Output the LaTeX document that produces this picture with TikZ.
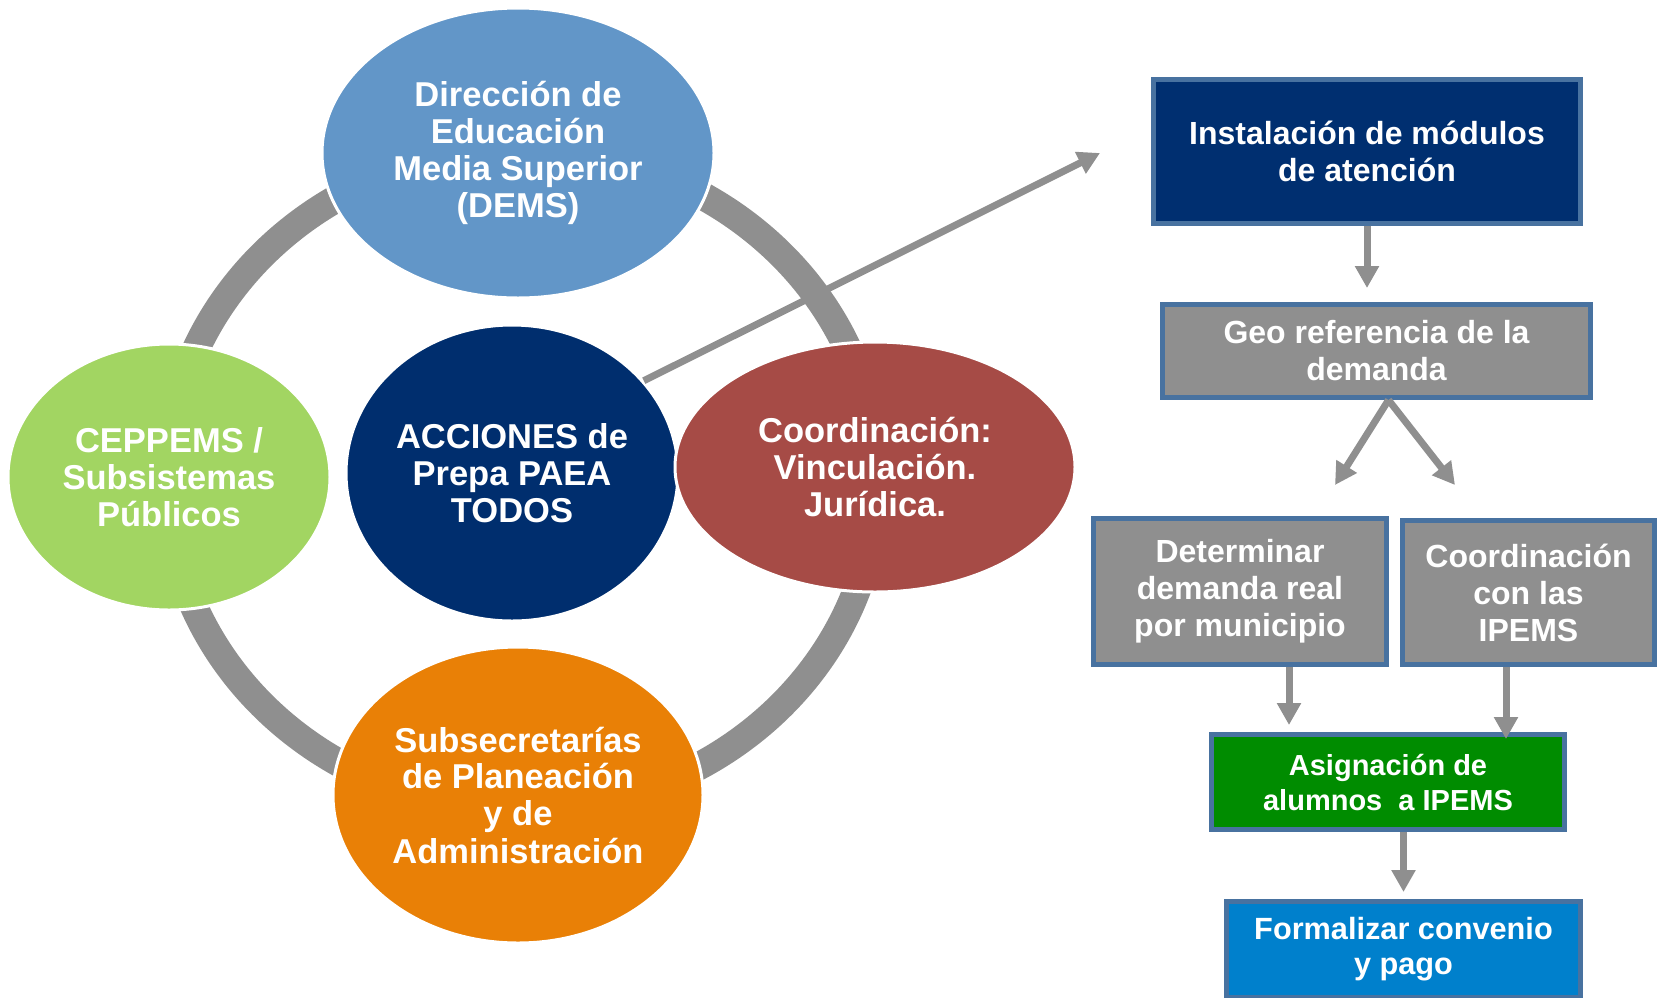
\documentclass[tikz,border=0pt]{standalone}
\usepackage{fontspec}
\setmainfont{Liberation Sans}
\usetikzlibrary{shapes.geometric,arrows.meta}
\definecolor{demsblue}{RGB}{98,150,200}
\definecolor{ceppgreen}{RGB}{162,213,98}
\definecolor{accnavy}{RGB}{0,46,110}
\definecolor{coordred}{RGB}{166,75,70}
\definecolor{subsorange}{RGB}{233,128,6}
\definecolor{flowgray}{RGB}{143,143,143}
\definecolor{boxedge}{RGB}{72,114,160}
\definecolor{instnavy}{RGB}{0,47,112}
\definecolor{asiggreen}{RGB}{0,140,0}
\definecolor{formblue}{RGB}{0,128,204}
\begin{document}
\begin{tikzpicture}[x=1pt,y=-1pt,
    actor/.style={ellipse,draw=white,line width=3pt,text=white,align=center,inner sep=0pt,font=\fontsize{34.5}{37}\selectfont\bfseries},
    stage/.style={rectangle,draw=boxedge,line width=5pt,text=white,align=center,inner sep=0pt,font=\fontsize{32}{37}\selectfont\bfseries},
    flow/.style={draw=flowgray,line width=7pt,-{Triangle[width=23pt,length=22pt]}},
    loopring/.style={draw=flowgray,line width=28pt}]
                \clip (0,0) rectangle (1659,997);
                \draw[loopring] (522,480) ellipse [x radius=355pt, y radius=330pt];

                \node[actor,fill=demsblue,minimum width=392pt,minimum height=290pt] (dems) at (518,153) {Dirección de\\Educación\\Media Superior\\(DEMS)};
                \node[actor,fill=ceppgreen,minimum width=322pt,minimum height=266pt] (cepp) at (169,477) {CEPPEMS /\\Subsistemas\\Públicos};
                \node[actor,fill=accnavy,minimum width=332pt,minimum height=296pt] (acc) at (512,473) {ACCIONES de\\Prepa PAEA\\TODOS};
                \node[actor,fill=coordred,minimum width=400pt,minimum height=250pt] (coord) at (875,467) {Coordinación:\\Vinculación.\\Jurídica.};
                \node[actor,fill=subsorange,minimum width=370pt,minimum height=296pt] (subs) at (518,795) {Subsecretarías\\de Planeación\\y de\\Administración};

                \node[stage,fill=instnavy,minimum width=427pt,minimum height=144pt] (inst) at (1367,151) {Instalación de módulos\\de atención};
                \node[stage,fill=flowgray,minimum width=428pt,minimum height=93pt] (geo) at (1376.5,351) {Geo referencia de la\\demanda};
                \node[stage,fill=flowgray,minimum width=293pt,minimum height=146pt] (det) at (1240,591.5) {Determinar\\demanda real\\por municipio};
                \node[stage,fill=flowgray,minimum width=252pt,minimum height=144pt] (ipems) at (1528.5,592.5) {Coordinación\\con las\\IPEMS};
                \node[stage,fill=asiggreen,minimum width=353pt,minimum height=95pt,font=\fontsize{29}{35}\selectfont\bfseries] (asig) at (1388,782) {Asignación de\\alumnos\ \ a IPEMS};
                \node[stage,fill=formblue,minimum width=354pt,minimum height=96pt,font=\fontsize{30.7}{35}\selectfont\bfseries] (form) at (1403.5,949.5) {Formalizar convenio\\y pago};

                \coordinate (goal) at (1100,153);
                \coordinate (vl) at (1335,485);
                \coordinate (vr) at (1455,485);

                \draw[flow] (acc.35) -- (goal);
                \draw[flow,shorten >=14pt] (inst.south) -- (inst.south |- geo.north);
                \draw[flow] ([xshift=12pt]geo.south) -- (vl); \draw[flow] ([xshift=12pt]geo.south) -- (vr);
                \draw[flow,shorten >=7pt] ([xshift=49pt]det.south) -- ([xshift=49pt]det.south |- asig.north);
                \draw[flow,shorten >=-7pt] ([xshift=-22.5pt]ipems.south) -- ([xshift=-22.5pt]ipems.south |- asig.north);
                \draw[flow,shorten >=7pt] (asig.south -| form.north) -- (form.north);
            \end{tikzpicture}
\end{document}
